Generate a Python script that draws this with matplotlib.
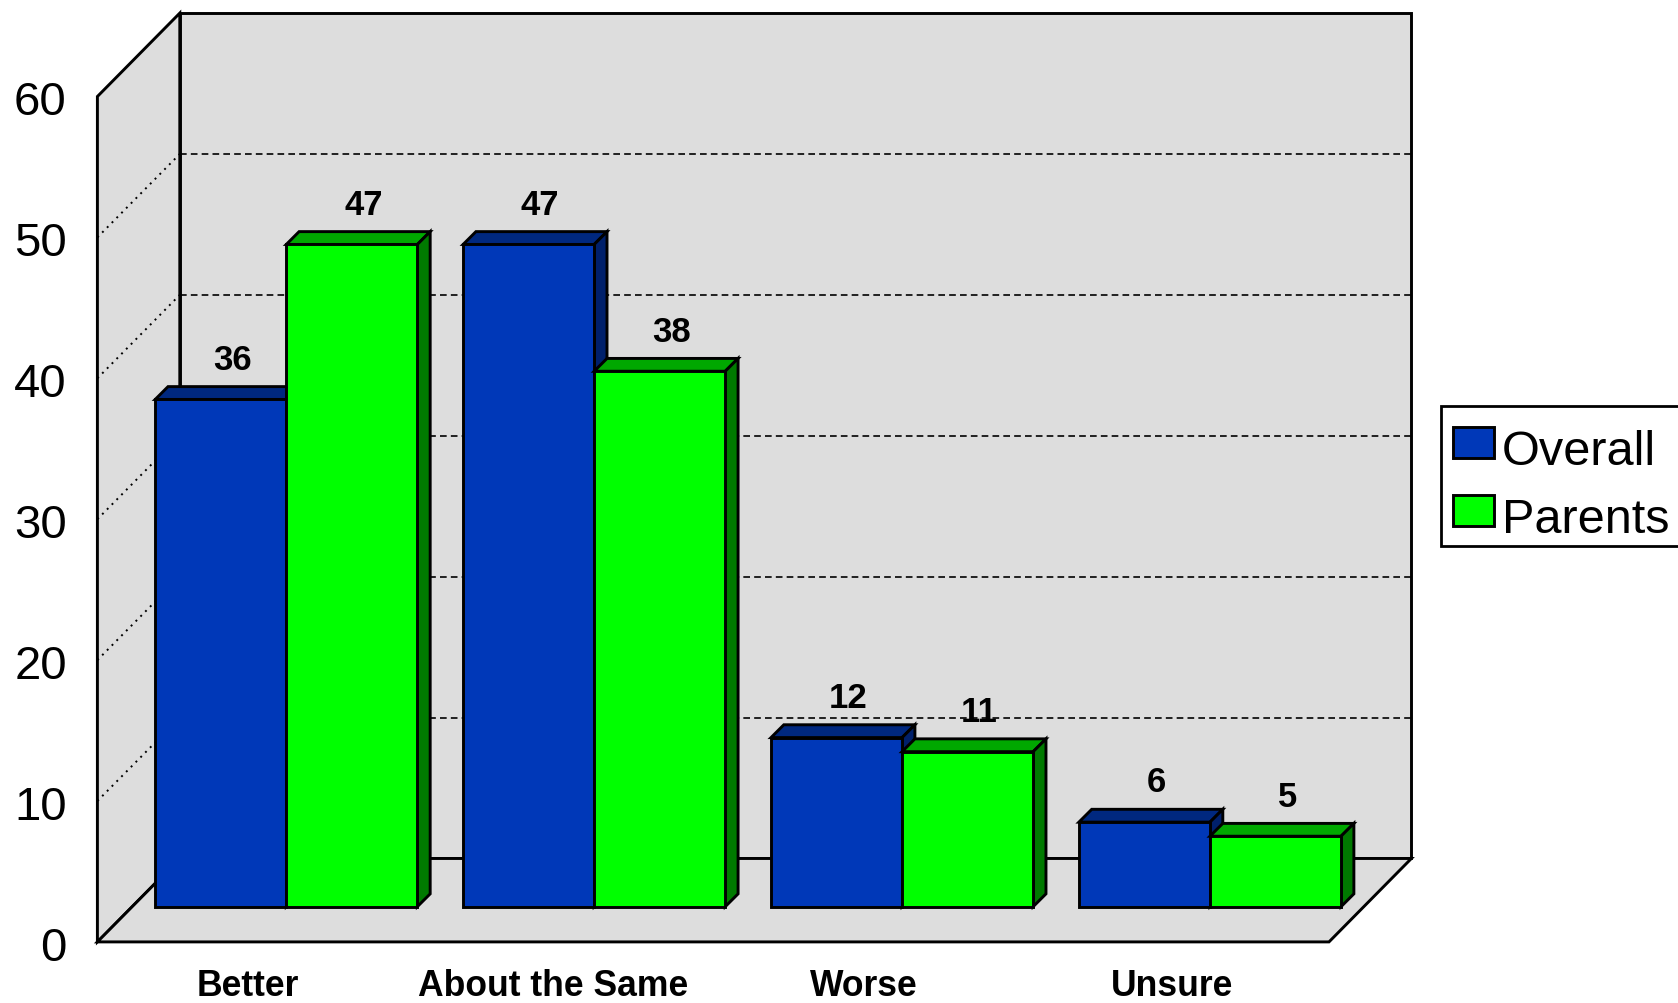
import matplotlib
matplotlib.use('Agg')
import matplotlib.pyplot as plt
from matplotlib.patches import Patch, Rectangle
from matplotlib.transforms import ScaledTranslation

plt.rcParams['font.family'] = ['Liberation Sans', 'DejaVu Sans']

categories = ['Better', 'About the Same', 'Worse', 'Unsure']
overall = [36, 47, 12, 6]
parents = [47, 38, 11, 5]
yticks = [0, 10, 20, 30, 40, 50, 60]

# colours: front, top, side
blue = ('#0038B8', '#00287F', '#00206B')
green = ('#00FF00', '#00A800', '#007A00')
wall = '#DDDDDD'

# 3d look, all in data units (1 category wide, y in percent)
wall_dx, wall_dy = 0.2676, 5.92
base_dx, base_dy = 0.1147, 2.5
bar_dx, bar_dy = 0.0417, 0.91
bar_w = 0.4257
group_start = 0.1877 - base_dx
lw = 2.1

W, H = 1678, 1004
fig = plt.figure(figsize=(W / 100, H / 100), dpi=100, facecolor='white')
ax = fig.add_axes([97.4 / W, 1 - 942.9 / H, (1329 - 97.4) / W, (942.9 - 97.5) / H])
ax.set_xlim(0, len(categories))
ax.set_ylim(0, 60)
ax.patch.set_visible(False)
for s in ax.spines.values():
    s.set_visible(False)


def poly(xs, ys, fc, z=1, ec='black'):
    ax.fill(xs, ys, facecolor=fc, edgecolor=ec, linewidth=lw, clip_on=False, zorder=z)


n = len(categories)
top = 60 + wall_dy
# walls and floor
poly([0, wall_dx, wall_dx, 0], [0, wall_dy, top, 60], wall)
poly([wall_dx, n + wall_dx, n + wall_dx, wall_dx], [wall_dy, wall_dy, top, top], wall)
poly([0, wall_dx, n + wall_dx, n], [0, wall_dy, wall_dy, 0], wall)

# gridlines
for t in yticks[1:-1]:
    ax.plot([wall_dx, n + wall_dx], [t + wall_dy, t + wall_dy], color='black', lw=1.2,
            dashes=(4, 2.5), clip_on=False, zorder=1.5)
    ax.plot([0, wall_dx], [t, t + wall_dy], color='black', lw=1.4,
            dashes=(1, 2.5), clip_on=False, zorder=1.5)


def bar3d(x, val, cols, z):
    y0 = base_dy
    y1 = base_dy + val
    x1 = x + bar_w
    poly([x, x + bar_dx, x1 + bar_dx, x1], [y1, y1 + bar_dy, y1 + bar_dy, y1], cols[1], z)
    poly([x1, x1 + bar_dx, x1 + bar_dx, x1], [y0, y0 + bar_dy, y1 + bar_dy, y1], cols[2], z)
    poly([x, x1, x1, x], [y0, y0, y1, y1], cols[0], z)
    ax.text(x + bar_w / 2 + bar_dx - 0.004, y1 + bar_dy + 1.27, str(val), ha='center', va='baseline',
            fontsize=25, fontweight='bold', color='black', clip_on=False, zorder=10)


z = 2
for i in range(n):
    x = i + group_start + base_dx
    bar3d(x, overall[i], blue, z)
    bar3d(x + bar_w, parents[i], green, z + 1)
    z += 2

ax.set_yticks(yticks)
ax.set_yticklabels([str(t) for t in yticks], fontsize=34)
ax.set_xticks([i + 0.49 for i in range(n)])
ax.set_xticklabels(categories, fontsize=25.6, fontweight='bold')
ax.tick_params(axis='y', length=0, pad=22)
ax.tick_params(axis='x', length=0, pad=19)
for lab in ax.get_yticklabels():
    lab.set_transform(lab.get_transform() + ScaledTranslation(0, -0.7 / 72, fig.dpi_scale_trans))
lab = ax.get_xticklabels()[1]
lab.set_transform(lab.get_transform() + ScaledTranslation(-2.4 / 72, 0, fig.dpi_scale_trans))

# legend frame runs off the right edge like in the original
fig.add_artist(Rectangle((1440.5 / W, 1 - 547 / H), 260 / W, 140.3 / H, transform=fig.transFigure,
                         facecolor='white', edgecolor='black', linewidth=2))
handles = [Patch(facecolor=blue[0], edgecolor='black', linewidth=lw, label='Overall'),
           Patch(facecolor=green[0], edgecolor='black', linewidth=lw, label='Parents')]
leg = fig.legend(handles=handles, loc='upper left', bbox_to_anchor=(1441 / W, 1 - 418 / H),
                 bbox_transform=fig.transFigure, borderaxespad=0, fontsize=35, frameon=False,
                 handlelength=0.85, handleheight=0.6, handletextpad=0.15, labelspacing=0.47,
                 borderpad=0.25)
for h in leg.legend_handles:
    h.set_y(h.get_y() + 3)

fig.savefig('out.png', dpi=100)
